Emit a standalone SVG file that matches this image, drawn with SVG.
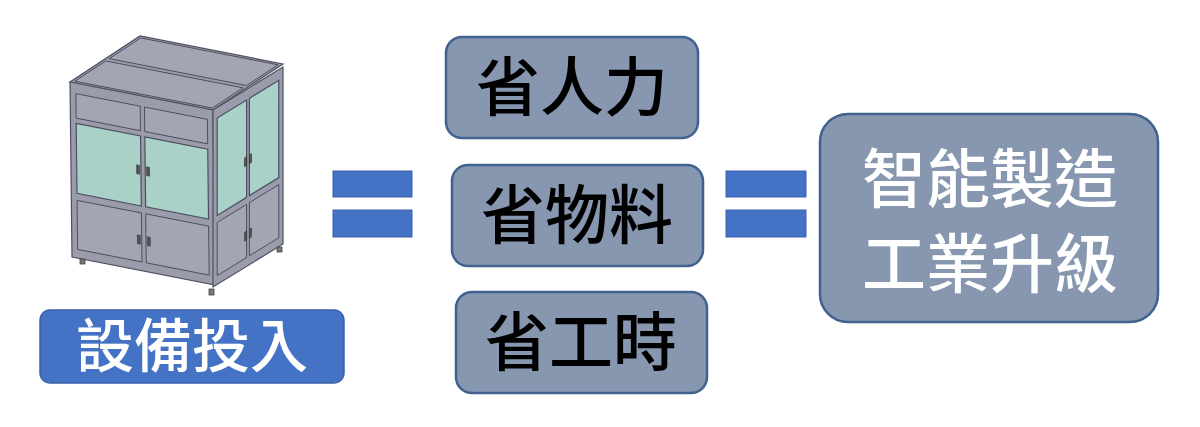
<svg xmlns="http://www.w3.org/2000/svg" width="1200" height="427" viewBox="0 0 1200 427">
<style>
.box{fill:#8797b0;stroke:#41618f;stroke-width:2.5}
.t{font-family:"Noto Sans CJK TC","Noto Sans CJK SC",sans-serif;font-weight:500;text-anchor:middle}
.bar{fill:#4472c4;stroke:#3a62a8;stroke-width:1}
.m{fill:#9a9cab;stroke:#4d4f60;stroke-width:1.2;vector-effect:non-scaling-stroke}
.p{fill:#a3a5b3;stroke:#4d4f60;stroke-width:1;vector-effect:non-scaling-stroke}
.g{fill:#a9d1c8;stroke:#4d4f60;stroke-width:1.2;vector-effect:non-scaling-stroke}
.h{fill:#555;stroke:#333;stroke-width:0.6;vector-effect:non-scaling-stroke}
</style>
<rect width="1200" height="427" fill="#fff"/>
<g id="cabinet">
  <g transform="matrix(1.43,0.28,0.70,-0.46,70,82)">
    <rect class="m" x="0" y="0" width="100" height="100"/>
    <rect class="p" x="2" y="3" width="96" height="44"/>
    <rect class="p" x="2" y="52" width="96" height="45"/>
  </g>
  <g transform="matrix(1.43,0.28,0.02,1.75,70,82)">
    <rect class="m" x="0" y="0" width="100" height="100"/>
    <rect class="p" x="4" y="6" width="45" height="14"/>
    <rect class="p" x="52" y="6" width="44" height="14"/>
    <rect class="g" x="4" y="23" width="45" height="40"/>
    <rect class="g" x="52" y="23" width="44" height="40"/>
    <rect class="p" x="4" y="67" width="45" height="28"/>
    <rect class="p" x="52" y="67" width="44" height="28"/>
    <rect class="h" x="46" y="40" width="2" height="5"/>
    <rect class="h" x="53" y="40" width="2" height="5"/>
    <rect class="h" x="46" y="80" width="2" height="5"/>
    <rect class="h" x="53" y="80" width="2" height="5"/>
  </g>
  <g transform="matrix(0.70,-0.43,0,1.77,213,110)">
    <rect class="m" x="0" y="0" width="100" height="100"/>
    <rect class="g" x="6" y="6" width="42" height="55"/>
    <rect class="g" x="52" y="6" width="42" height="55"/>
    <rect class="p" x="6" y="65" width="42" height="30"/>
    <rect class="p" x="52" y="65" width="42" height="30"/>
    <rect class="h" x="45" y="38" width="3" height="5"/>
    <rect class="h" x="52" y="38" width="3" height="5"/>
    <rect class="h" x="45" y="80" width="3" height="5"/>
    <rect class="h" x="52" y="80" width="3" height="5"/>
  </g>
  <g fill="#777" stroke="#444" stroke-width="0.8">
    <rect x="80" y="259" width="5" height="5"/>
    <rect x="209" y="289" width="5" height="6"/>
    <rect x="277" y="247" width="5" height="5"/>
  </g>
</g>
<g id="label-invest">
  <rect x="40" y="310" width="304" height="73" rx="10" fill="#4472c4" stroke="#3a62a8" stroke-width="1.5"/>
  <text class="t" x="192" y="367" font-size="58" fill="#fff">設備投入</text>
</g>
<g id="connectors">
  <rect class="bar" x="333" y="171" width="79" height="26"/>
  <rect class="bar" x="333" y="210" width="79" height="27"/>
  <rect class="bar" x="726" y="171" width="80" height="26"/>
  <rect class="bar" x="726" y="210" width="80" height="27"/>
</g>
<g id="node1">
  <rect class="box" x="446" y="37" width="252" height="101" rx="16"/>
  <text class="t" x="572" y="110" font-size="64">省人力</text>
</g>
<g id="node2">
  <rect class="box" x="452" y="165" width="251" height="101" rx="16"/>
  <text class="t" x="577" y="238" font-size="64">省物料</text>
</g>
<g id="node3">
  <rect class="box" x="456" y="292" width="251" height="101" rx="16"/>
  <text class="t" x="581" y="365" font-size="64">省工時</text>
</g>
<g id="node4">
  <rect class="box" x="820" y="114" width="338" height="208" rx="28"/>
  <text class="t" x="990" y="202" font-size="64" fill="#fff">智能製造</text>
  <text class="t" x="990" y="287" font-size="64" fill="#fff">工業升級</text>
</g>
</svg>
